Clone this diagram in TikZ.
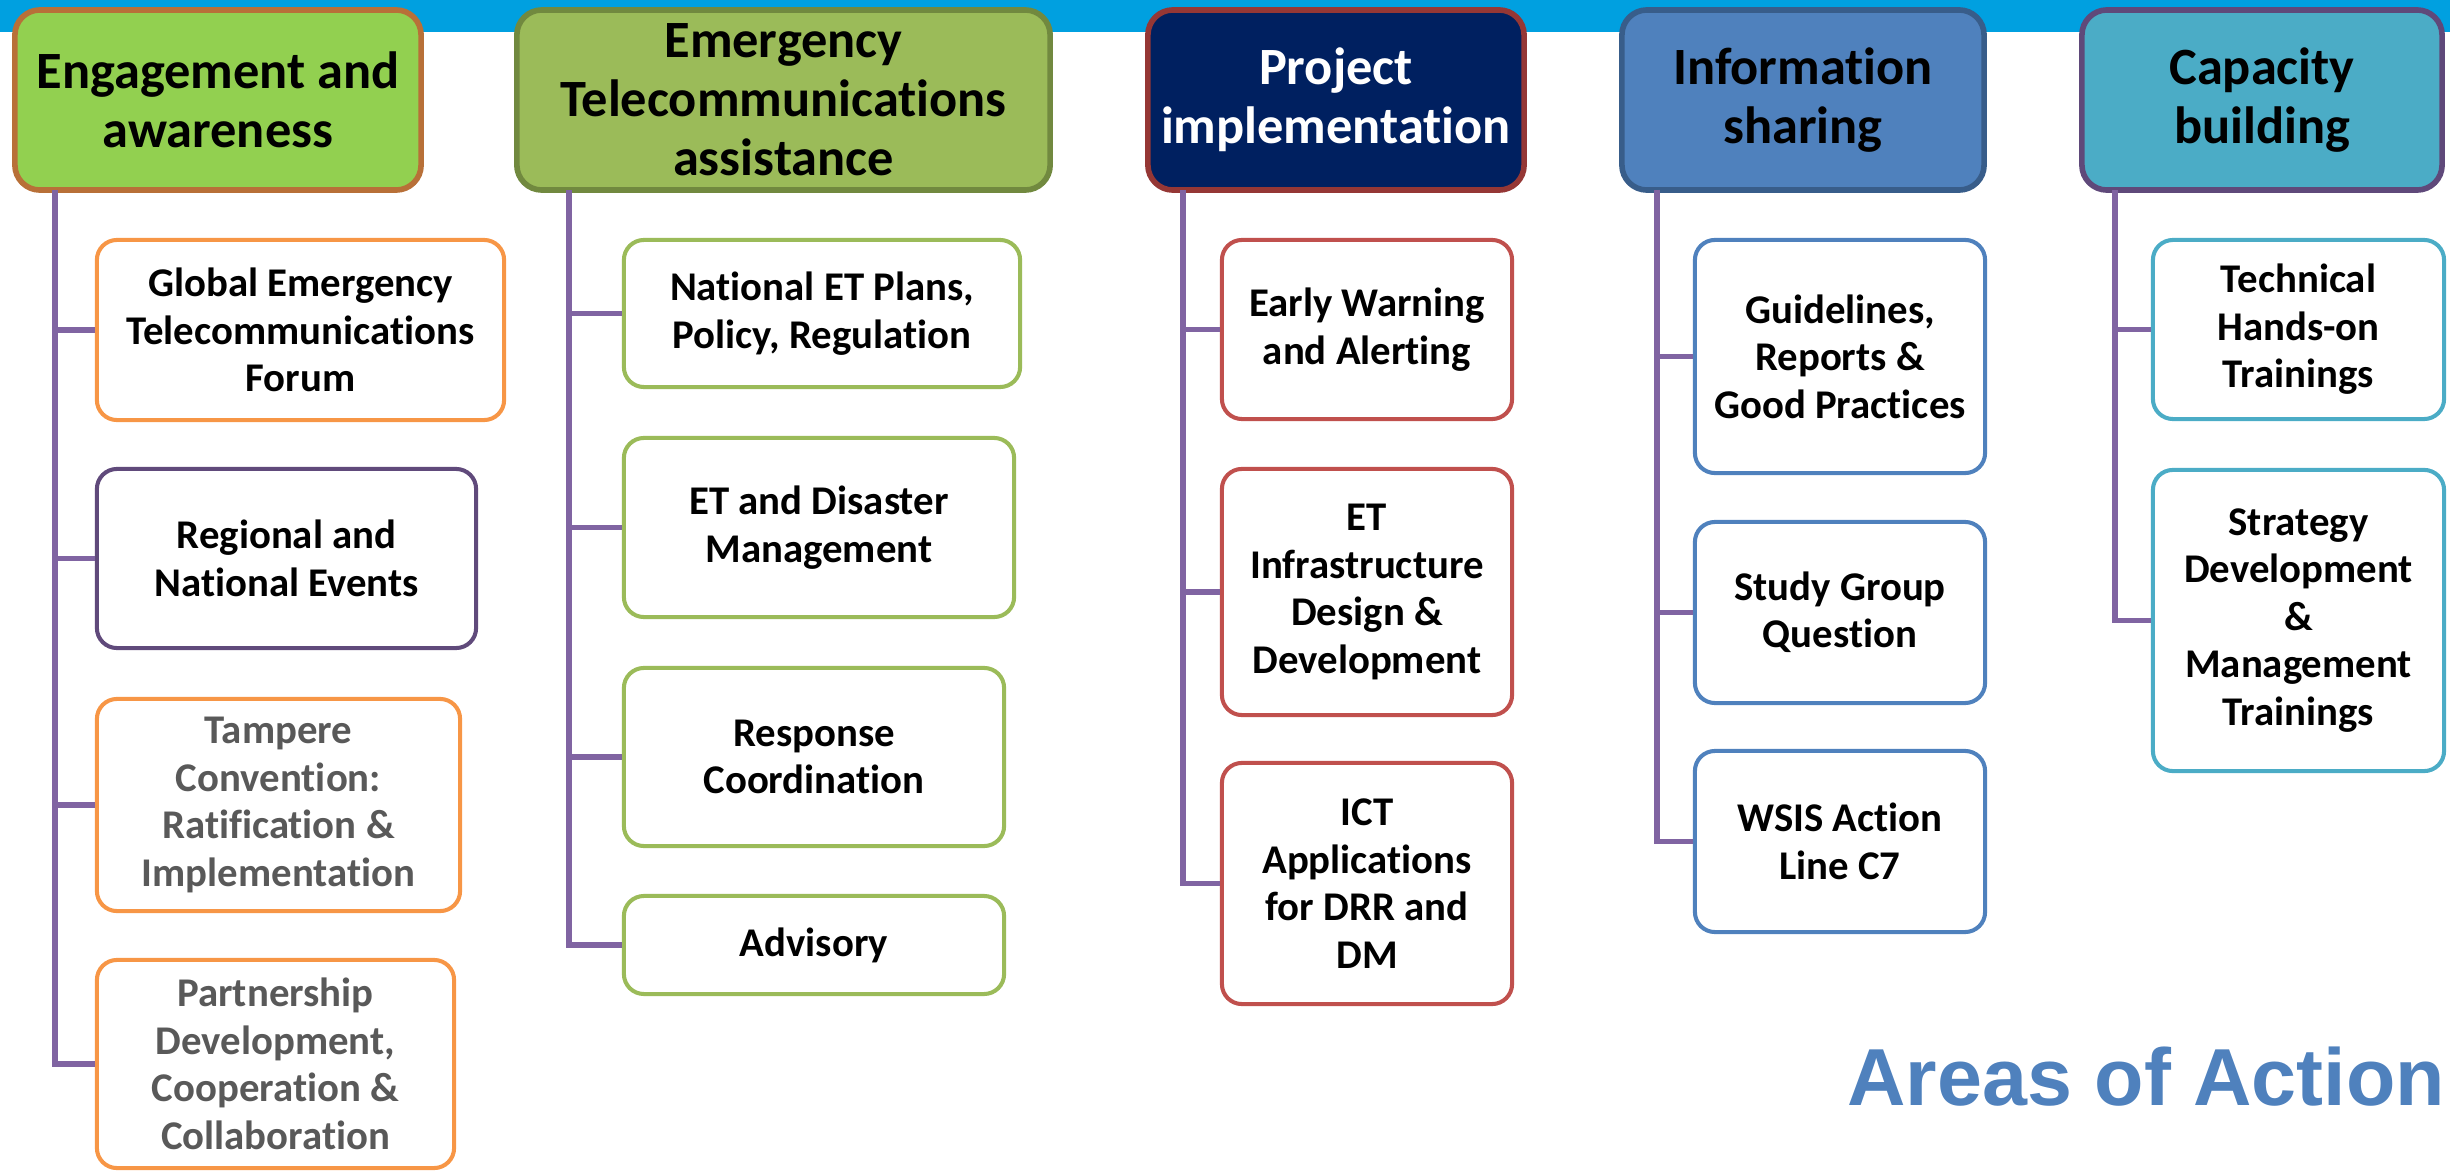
\documentclass[tikz,border=0pt]{standalone}
\usepackage{fontspec}
\setmainfont{Carlito}[Ligatures={NoCommon}]
\newfontfamily\arialfont{Liberation Sans}
\usepackage{tikz}

\definecolor{topbar}{RGB}{0,160,224}
\definecolor{lnkpurple}{RGB}{128,100,162}
\definecolor{engfill}{RGB}{146,208,80}
\definecolor{engline}{RGB}{184,112,56}
\definecolor{etafill}{RGB}{155,187,89}
\definecolor{etaline}{RGB}{113,137,63}
\definecolor{prjfill}{RGB}{0,32,96}
\definecolor{prjline}{RGB}{149,55,53}
\definecolor{inffill}{RGB}{79,129,189}
\definecolor{infline}{RGB}{56,93,138}
\definecolor{capfill}{RGB}{75,172,198}
\definecolor{capline}{RGB}{95,73,122}
\definecolor{orng}{RGB}{247,150,70}
\definecolor{dkpurple}{RGB}{96,74,123}
\definecolor{ltgreen}{RGB}{155,187,89}
\definecolor{redbox}{RGB}{192,80,77}
\definecolor{bluebox}{RGB}{79,129,189}
\definecolor{aquabox}{RGB}{75,172,198}
\definecolor{greytxt}{RGB}{89,89,89}

\tikzset{
	head/.style={draw, line width=1.6pt, rounded corners=0.25cm, align=center, inner sep=0pt,
		minimum height=1.80cm, font=\fontsize{14.9}{16.8}\selectfont\bfseries},
	item/.style={draw=#1, fill=white, line width=1.15pt, rounded corners=0.2cm, align=center,
		inner sep=0pt, font=\fontsize{11.6}{13.5}\selectfont\bfseries},
	link/.style={lnkpurple, line width=1.6pt},
}

\begin{document}
\begin{tikzpicture}[x=0.01cm,y=-0.01cm]
	\useasboundingbox (0,0) rectangle (2450,1173);
	
	% Top bar
	\fill[topbar] (0,0) rectangle (2450,32);
	
	% Trunk tops
	\coordinate (t1) at (55,190);
	\coordinate (t2) at (569,190);
	\coordinate (t3) at (1183,190);
	\coordinate (t4) at (1657,190);
	\coordinate (t5) at (2115,190);
	
	% Headers
	\node[head, fill=engfill, draw=engline, minimum width=4.06cm] (eng) at (218,100) {Engagement and\\awareness};
	\node[head, fill=etafill, draw=etaline, minimum width=5.33cm] (eta) at (783.5,100) {Emergency\\Telecommunications\\assistance};
	\node[head, fill=prjfill, draw=prjline, text=white, minimum width=3.76cm] (prj) at (1336,100) {Project\\implementation};
	\node[head, fill=inffill, draw=infline, minimum width=3.62cm] (inf) at (1803,100) {Information\\sharing};
	\node[head, fill=capfill, draw=capline, minimum width=3.60cm] (cap) at (2262,100) {Capacity\\building};
	
	% Engagement and awareness
	\node[item=orng, minimum width=4.07cm, minimum height=1.80cm] (gef) at (300.5,330) {Global Emergency\\Telecommunications\\Forum};
	\node[item=dkpurple, minimum width=3.79cm, minimum height=1.79cm] (rne) at (286.5,558.5) {Regional and\\National Events};
	\node[item=orng, text=greytxt, minimum width=3.63cm, minimum height=2.12cm] (tmp) at (278.5,805) {Tampere\\Convention:\\Ratification \&\\Implementation};
	\node[item=orng, text=greytxt, minimum width=3.57cm, minimum height=2.08cm] (pdc) at (275.5,1064) {Partnership\\Development,\\Cooperation \&\\Collaboration};
	
	% Emergency Telecommunications assistance
	\node[item=ltgreen, minimum width=3.96cm, minimum height=1.47cm] (npl) at (822,313.5) {National ET Plans,\\Policy, Regulation};
	\node[item=ltgreen, minimum width=3.90cm, minimum height=1.79cm] (edm) at (819,527.5) {ET and Disaster\\Management};
	\node[item=ltgreen, minimum width=3.80cm, minimum height=1.78cm] (rco) at (814,757) {Response\\Coordination};
	\node[item=ltgreen, minimum width=3.80cm, minimum height=0.98cm] (adv) at (814,945) {Advisory};
	
	% Project implementation
	\node[item=redbox, minimum width=2.90cm, minimum height=1.79cm] (ewa) at (1367,329.5) {Early Warning\\and Alerting};
	\node[item=redbox, minimum width=2.90cm, minimum height=2.46cm] (eti) at (1367,592) {ET\\Infrastructure\\Design \&\\Development};
	\node[item=redbox, minimum width=2.90cm, minimum height=2.41cm] (ict) at (1367,883.5) {ICT\\Applications\\for DRR and\\DM};
	
	% Information sharing
	\node[item=bluebox, minimum width=2.90cm, minimum height=2.33cm] (grg) at (1840,356.5) {Guidelines,\\Reports \&\\Good Practices};
	\node[item=bluebox, minimum width=2.90cm, minimum height=1.81cm] (sgq) at (1840,612.5) {Study Group\\Question};
	\node[item=bluebox, minimum width=2.90cm, minimum height=1.81cm] (wsis) at (1840,841.5) {WSIS Action\\Line C7};
	
	% Capacity building
	\node[item=aquabox, minimum width=2.91cm, minimum height=1.79cm] (tht) at (2298.5,329.5) {Technical\\Hands-on\\Trainings};
	\node[item=aquabox, minimum width=2.91cm, minimum height=3.01cm] (sdm) at (2298.5,620.5) {Strategy\\Development\\\&\\Management\\Trainings};
	
	% Connectors
	\foreach \b in {gef,rne,tmp,pdc} \draw[link] (t1) |- (\b.west);
	\foreach \b in {npl,edm,rco,adv} \draw[link] (t2) |- (\b.west);
	\foreach \b in {ewa,eti,ict} \draw[link] (t3) |- (\b.west);
	\foreach \b in {grg,sgq,wsis} \draw[link] (t4) |- (\b.west);
	\foreach \b in {tht,sdm} \draw[link] (t5) |- (\b.west);
	
	% Title
	\node[anchor=base east, inner sep=0pt, text=inffill, font=\arialfont\bfseries\fontsize{23}{27}\selectfont] (aoa) at (2446,1105) {Areas of Action};
\end{tikzpicture}
\end{document}
